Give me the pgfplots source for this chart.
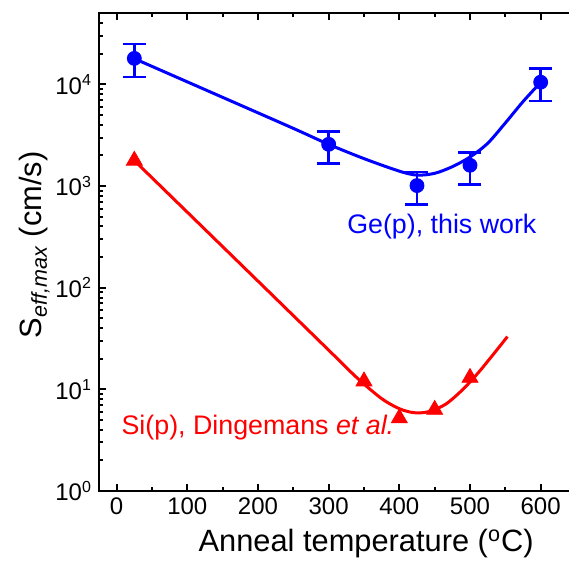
\documentclass[border=0pt]{standalone}
\usepackage{pgfplots}
\pgfplotsset{compat=1.18}
\usepackage{fontspec}
\setmainfont{Liberation Sans}

\definecolor{gblue}{RGB}{0,0,255}
\definecolor{sred}{RGB}{255,0,0}

\begin{document}
\begin{tikzpicture}
\begin{axis}[
    scale only axis,
    width=238.5pt, height=238.85pt,
    xmin=-25, xmax=650,
    ymode=log, ymin=1, ymax=5e4,
    xtick={0,100,...,600},
    minor x tick num=1,
    ytick={1,10,100,1000,10000},
    yticklabels={10\textsuperscript{0},10\textsuperscript{1},10\textsuperscript{2},10\textsuperscript{3},10\textsuperscript{4}},
    minor ytick={2,3,...,9,20,30,...,90,200,300,...,900,2000,3000,...,9000,20000,30000,40000},
    tick align=inside,
    major tick length=3.5pt, minor tick length=2pt,
    axis line style={line width=1.1pt},
    every tick/.style={black, line width=1pt},
    tick label style={font=\fontsize{12}{14}\selectfont},
    /pgf/number format/assume math mode=true,
    label style={font=\fontsize{15.4}{18}\selectfont},
    xlabel={Anneal temperature (\textsuperscript{o}C)},
    ylabel={S\textsubscript{\textit{eff,max}} (cm/s)},
    xlabel style={at={(axis description cs:0.56,-0.111)}, anchor=center},
    ylabel style={at={(axis description cs:-0.136,0.515)}, anchor=center},
    clip=false,
]
% fitted guide curves
\addplot[gblue, line width=1.5pt, smooth] coordinates {
  (25,17900) (150,7450) (250,3690) (300,2570) (350,1860) (400,1400)
  (425,1280) (450,1333) (475,1549) (500,1928) (525,2630) (550,4170)
  (575,6760) (600,10470)
};
\addplot[sred, line width=1.5pt, smooth] coordinates {
  (25,1780) (200,116) (300,24.3) (340,13) (375,8.1) (400,6.45) (420,5.9)
  (440,6.0) (465,7.1) (490,10) (515,15.5) (553,33)
};
% measured points
\addplot[gblue, only marks, mark=*, mark size=3.5pt,
  error bars/.cd, y dir=both, y explicit,
  error bar style={line width=1.25pt},
  error mark options={rotate=90, line width=1.25pt, mark size=5.75pt}]
  coordinates {
  (25,18000) += (0,6800) -= (0,6200)
  (300,2570) += (0,850) -= (0,900)
  (425,1010) += (0,360) -= (0,350)
  (500,1600) += (0,525) -= (0,565)
  (600,10500) += (0,3800) -= (0,3650)
};
\addplot[sred, only marks, mark=triangle*, mark size=4.6pt]
  coordinates {(25,1780) (350,12) (400,5.2) (450,6.3) (500,13)};

\node[anchor=base east, text=gblue, font=\fontsize{13.4}{16}\selectfont]
  at (axis cs:604,340) {Ge(p), this work};
\node[anchor=base west, text=sred, font=\fontsize{13.4}{16}\selectfont]
  at (axis cs:-3,3.56) {Si(p), Dingemans \textit{et al.}};
\end{axis}
\pgfresetboundingbox
\path[use as bounding box] ([xshift=-49.5pt,yshift=-35pt]current axis.south west)
  rectangle ([xshift=235pt,yshift=6.65pt]current axis.north west);
\end{tikzpicture}
\end{document}
